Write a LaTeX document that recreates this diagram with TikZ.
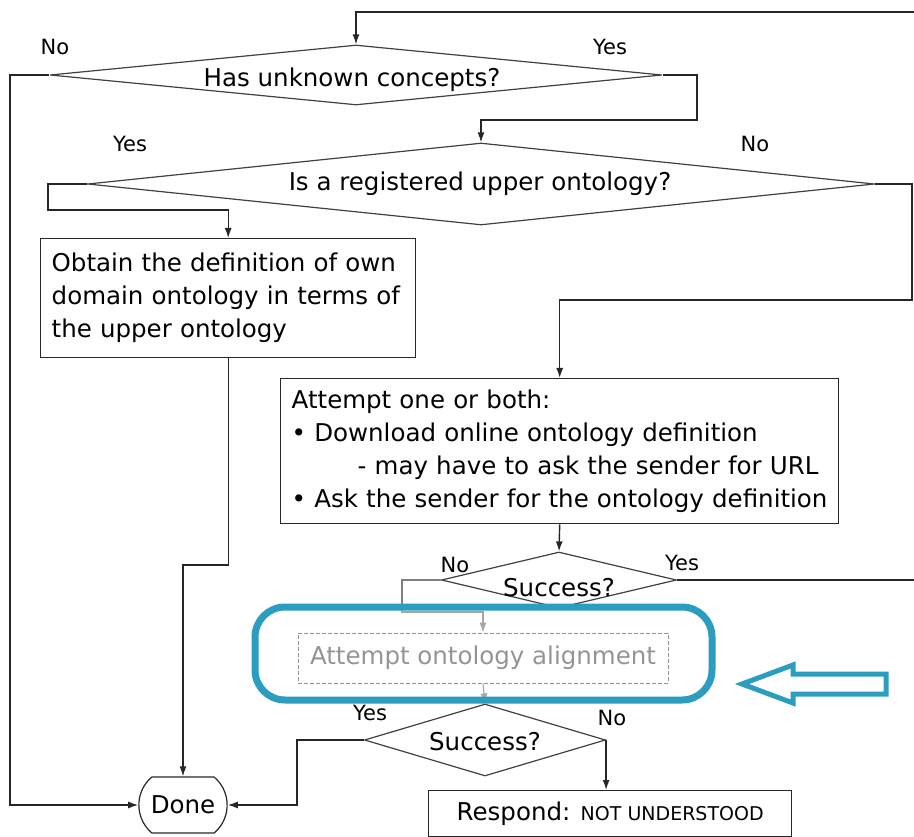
\documentclass[tikz,border=0pt]{standalone}
\usepackage{fontspec}
\setmainfont{DejaVu Sans}
\usetikzlibrary{shapes.geometric,shapes.misc,arrows.meta}
\definecolor{hl}{RGB}{43,158,192}
\tikzset{
  >={Latex[length=10pt,width=7pt]},
  line/.style={line width=1.4pt,draw=black!85},
  flow/.style={line,->},
  faded/.style={line width=1.1pt,draw=black!50},
  question/.style={diamond,draw=black!75,line width=1.2pt,inner sep=0pt},
  box/.style={rectangle,draw=black!85,line width=1.4pt,inner xsep=11pt,align=left,anchor=north west},
  answer/.style={font=\fontsize{21}{24}\selectfont,inner sep=0pt}
}
\begin{document}
\begin{tikzpicture}[x=1pt,y=-1pt,every node/.style={font=\fontsize{24.5}{33}\selectfont}]
    \useasboundingbox (0,0) rectangle (914,837);
    %% decisions
    \node[question,minimum width=612pt,minimum height=60pt] (unknown) at (356,75) {};
    \node (unknownT) at (352,80) {Has unknown concepts?};
    \node[question,minimum width=787pt,minimum height=82pt] (upper) at (481,184) {};
    \node (upperT) at (480,184) {Is a registered upper ontology?};
    \node[question,minimum width=235pt,minimum height=56pt] (success1) at (559,580) {};
    \node (success1T) at (559,588) {Success?};
    \node[question,minimum width=241pt,minimum height=72pt] (success2) at (485,740) {};
    \node (success2T) at (485,742) {Success?};
    %% answers
    \node[answer] (noA) at (55,47) {No};
    \node[answer] (yesA) at (610,47) {Yes};
    \node[answer] (yesB) at (130,144) {Yes};
    \node[answer] (noB) at (755,144) {No};
    \node[answer] (noC) at (455,565) {No};
    \node[answer] (yesC) at (682,563) {Yes};
    \node[answer] (yesD) at (370,713) {Yes};
    \node[answer] (noD) at (612,718) {No};
    %% boxes
    \node[box,text width=353pt,minimum height=119pt] (obtain) at (40,238)
        {Obtain the definition of own\\domain ontology in terms of\\the upper ontology};
    \node[box,text width=536pt,minimum height=145pt] (attempt) at (280,378)
        {Attempt one or both:\\
         • Download online ontology definition\\
         \hspace*{66pt}- may have to ask the sender for URL\\
         • Ask the sender for the ontology definition};
    \node[box,anchor=center,draw=black!60,text=black!60,line width=1pt,dash pattern=on 4pt off 2pt,
          minimum width=370pt,minimum height=50pt] (align) at (483,658) {Attempt ontology alignment};
    \node[draw=black!85,rounded rectangle,rounded rectangle arc length=100,line width=1.2pt,
          minimum width=95pt,minimum height=56pt] (done) at (183,805) {Done};
    \node[box,minimum width=363pt,minimum height=46pt] (respond) at (428,790)
        {Respond: {\fontsize{19}{22}\selectfont NOT UNDERSTOOD}};
    %% connectors
    \coordinate (entry) at (914,12);
    \coordinate (exit) at (914,580);
    \draw[flow] (entry) -| (unknown.north);
    \draw[flow] (unknown.west) -- (10,75) |- (done.west);
    \draw[flow] (unknown.east) -| (697,120) -| (upper.north);
    \draw[flow] (upper.west) -| (48,210) -| (obtain.north);
    \draw[flow] (upper.east) -| (912,300) -| (attempt.north);
    \draw[flow] (obtain.south) -- (obtain.south |- 0,565) -| (done.north);
    \draw[flow] (attempt.south) -- (success1.north);
    \draw[line] (success1.east) -- (exit);
    \draw[faded,->] (success1.west) -| (402,612) -| (align.north);
    \draw[faded,->] (align.south) -- (success2.north);
    \draw[flow] (success2.west) -| (297,780) |- (done.east);
    \draw[flow] (success2.east) -- (success2.east |- respond.north);
    %% highlight
    \fill[white,opacity=0.3,rounded corners=30pt] (255,607) rectangle (712,700);
    \draw[hl,line width=7pt,rounded corners=30pt] (255,607) rectangle (712,700);
    \draw[hl,line width=5pt] (742,684) -- (793,665) -- (793,674) -- (886,674)
        -- (886,694) -- (793,694) -- (793,703) -- cycle;
\end{tikzpicture}
\end{document}
